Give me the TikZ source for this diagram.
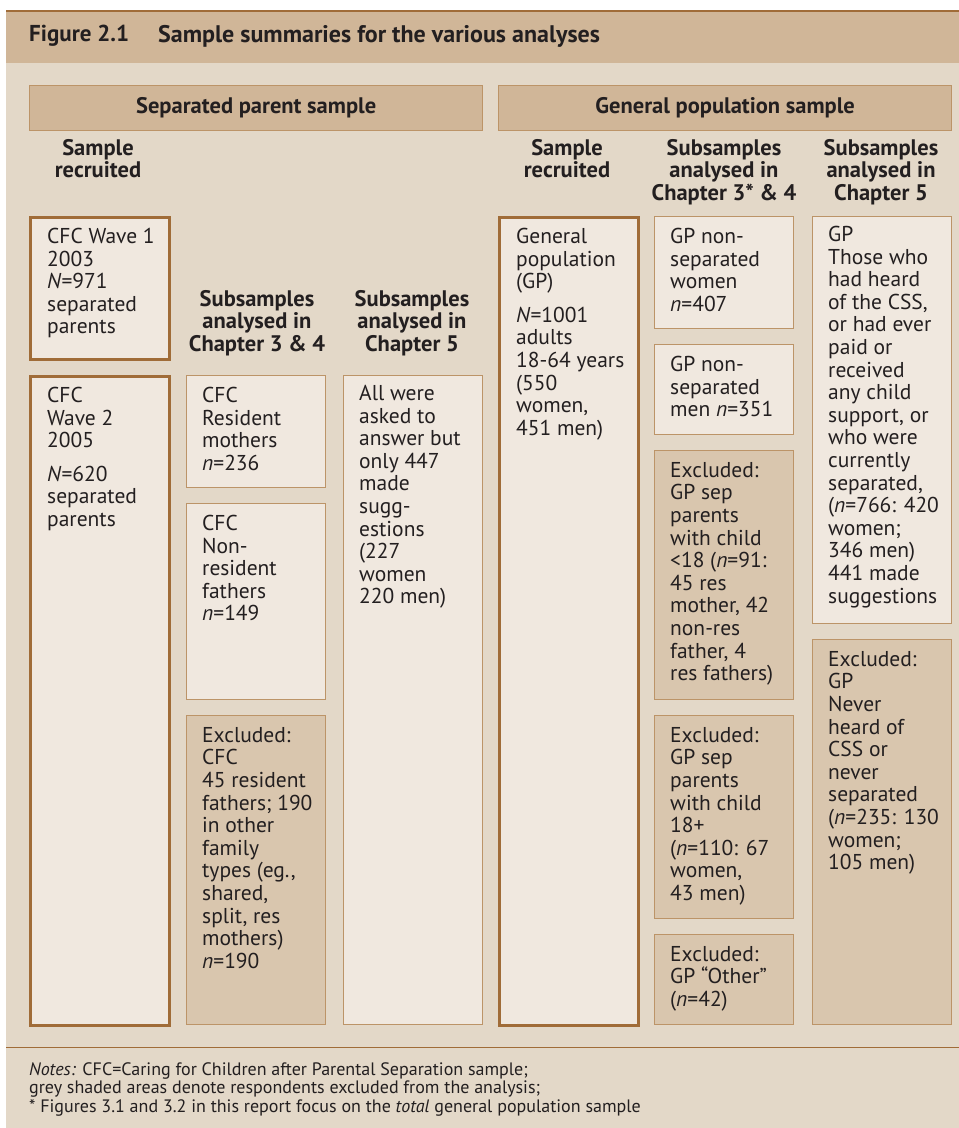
\documentclass[tikz,border=0pt]{standalone}
\usepackage{fontspec}
\setmainfont{PT Sans}
\usetikzlibrary{positioning,calc}
\definecolor{headtan}{RGB}{208,182,152}
\definecolor{bodytan}{RGB}{227,216,200}
\definecolor{boxfill}{RGB}{240,232,223}
\definecolor{exclfill}{RGB}{217,198,174}
\definecolor{thinline}{RGB}{188,148,104}
\definecolor{thickline}{RGB}{160,108,56}
\definecolor{inkcol}{RGB}{35,31,32}

\begin{document}
\begin{tikzpicture}[x=1pt,y=-1pt,
	every node/.style={text=inkcol},
	box/.style={rectangle,draw=thinline,fill=boxfill,line width=1.3pt,inner sep=0pt,anchor=north west,minimum width=139pt},
	thickbox/.style={box,draw=thickline,line width=3pt},
	exclbox/.style={box,fill=exclfill},
	bar/.style={rectangle,draw=thinline,fill=headtan,line width=1.3pt,inner sep=0pt,anchor=north west,minimum width=453pt,minimum height=45pt,font=\fontsize{22.5}{24}\selectfont\bfseries},
	txt/.style={anchor=north west,inner sep=0pt,align=left,font=\fontsize{21.5}{22.6}\selectfont},
	head/.style={anchor=north,inner sep=0pt,align=center,font=\fontsize{22.5}{22.4}\selectfont\bfseries}]
	\useasboundingbox (0,0) rectangle (959,1128);
	% background bands
	\fill[headtan] (6,11) rectangle (959,63);
	\fill[bodytan] (6,63) rectangle (959,1128);
	\draw[thickline,line width=2pt] (6,11) -- (959,11);
	\draw[thickline,line width=1pt] (6,1047) -- (959,1047);
	\node[anchor=west,inner sep=0pt,font=\fontsize{23}{24}\selectfont\bfseries] (figno) at (29,36) {Figure 2.1};
	\node[anchor=west,inner sep=0pt,font=\fontsize{24}{25}\selectfont\bfseries] (figtitle) at (158,36) {Sample summaries for the various analyses};
	
	% sample bars
	\node[bar] (sepbar) at (29,85) {Separated parent sample};
	\node[bar,minimum width=453pt] (gpbar) at (498,85) {General population sample};
	
	% column headings
	\node[head] (sprec) at (98,139) {Sample\\recruited};
	\node[head] (spsub) at (257,290) {Subsamples\\analysed in\\Chapter 3 \& 4};
	\node[head] (spfive) at (412,290) {Subsamples\\analysed in\\Chapter 5};
	\node[head] (gprec) at (567,139) {Sample\\recruited};
	\node[head] (gpsub) at (724,139) {Subsamples\\analysed in\\Chapter 3* \& 4};
	\node[head] (gpfive) at (881,139) {Subsamples\\analysed in\\Chapter 5};
	
	% separated parent boxes
	\node[thickbox,minimum height=142pt] (w1) at (29,216) {};
	\node[thickbox,minimum height=649pt] (w2) at (29,375) {};
	\node[box,minimum height=112pt] (resmoth) at (186,375) {};
	\node[box,minimum height=196pt] (nonresfath) at (186,503) {};
	\node[exclbox,minimum height=309pt] (exclcfc) at (186,715) {};
	\node[box,minimum height=649pt] (spall) at (343,375) {};
	
	\node[txt] (w1t) at ([shift={(18,12)}]w1.north west) {CFC Wave 1\\2003\\\textit{N}=971\\separated\\parents};
	\node[txt] (w2t) at ([shift={(18,12)}]w2.north west) {CFC\\Wave 2\\2005\\[11pt]\textit{N}=620\\separated\\parents};
	\node[txt] (resmotht) at ([shift={(16,12)}]resmoth.north west) {CFC\\Resident\\mothers\\\textit{n}=236};
	\node[txt] (nonresfatht) at ([shift={(16,12)}]nonresfath.north west) {CFC\\Non-\\resident\\fathers\\\textit{n}=149};
	\node[txt] (exclcfct) at ([shift={(16,12)}]exclcfc.north west) {Excluded:\\CFC\\45 resident\\fathers; 190\\in other\\family\\types (eg.,\\shared,\\split, res\\mothers)\\\textit{n}=190};
	\node[txt] (spallt) at ([shift={(16,10)}]spall.north west) {All were\\asked to\\answer but\\only 447\\made\\sugg-\\estions\\(227\\women\\220 men)};
	
	% general population boxes
	\node[thickbox,minimum height=808pt] (gpall) at (498,216) {};
	\node[box,minimum height=112pt] (gpwomen) at (654,216) {};
	\node[box,minimum height=90pt] (gpmen) at (654,344) {};
	\node[exclbox,minimum height=249pt] (exclunder) at (654,450) {};
	\node[exclbox,minimum height=203pt] (excladult) at (654,715) {};
	\node[exclbox,minimum height=90pt] (exclother) at (654,934) {};
	\node[box,minimum height=407pt] (gpcss) at (812,216) {};
	\node[exclbox,minimum height=385pt] (exclcss) at (812,639) {};
	
	\node[txt] (gpallt) at ([shift={(18,12)}]gpall.north west) {General\\population\\(GP)\\[11pt]\textit{N}=1001\\adults\\18-64 years\\(550\\women,\\451 men)};
	\node[txt] (gpwoment) at ([shift={(16,12)}]gpwomen.north west) {GP non-\\separated\\women\\\textit{n}=407};
	\node[txt] (gpment) at ([shift={(16,12)}]gpmen.north west) {GP non-\\separated\\men \textit{n}=351};
	\node[txt] (exclundert) at ([shift={(16,12)}]exclunder.north west) {Excluded:\\GP sep\\parents\\with child\\<18 (\textit{n}=91:\\45 res\\mother, 42\\non-res\\father, 4\\res fathers)};
	\node[txt] (excladultt) at ([shift={(16,12)}]excladult.north west) {Excluded:\\GP sep\\parents\\with child\\18+\\(\textit{n}=110: 67\\women,\\43 men)};
	\node[txt] (exclothert) at ([shift={(16,12)}]exclother.north west) {Excluded:\\GP “Other”\\(\textit{n}=42)};
	\node[txt] (gpcsst) at ([shift={(16,10)}]gpcss.north west) {GP\\Those who\\had heard\\of the CSS,\\or had ever\\paid or\\received\\any child\\support, or\\who were\\currently\\separated,\\(\textit{n}=766: 420\\women;\\346 men)\\441 made\\suggestions};
	\node[txt] (exclcsst) at ([shift={(16,12)}]exclcss.north west) {Excluded:\\GP\\Never\\heard of\\CSS or\\never\\separated\\(\textit{n}=235: 130\\women;\\105 men)};
	
	% notes
	\node[anchor=north west,inner sep=0pt,align=left,font=\fontsize{18}{18.6}\selectfont] (notes) at (29,1062) {\textit{Notes:} CFC=Caring for Children after Parental Separation sample;\\grey shaded areas denote respondents excluded from the analysis;\\* Figures 3.1 and 3.2 in this report focus on the \textit{total} general population sample};
\end{tikzpicture}
\end{document}
